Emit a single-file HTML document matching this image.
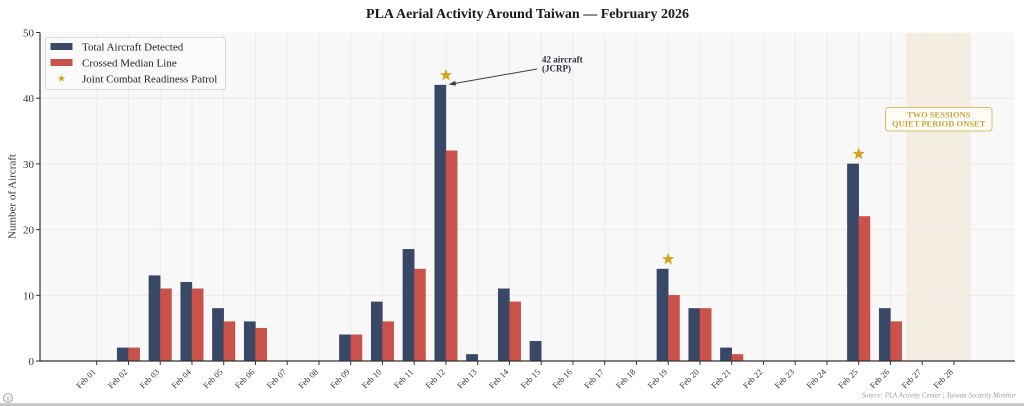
<!DOCTYPE html>
<html><head><meta charset="utf-8"><style>
html,body{margin:0;padding:0;background:#fff;}
svg{display:block;}
text{font-family:"Liberation Serif",serif;}
</style></head><body>
<svg width="1024" height="406" viewBox="0 0 1024 406" xmlns="http://www.w3.org/2000/svg">
<rect width="1024" height="406" fill="#fff"/>
<text x="527.5" y="18" text-anchor="middle" font-size="14" font-weight="bold" fill="#1a1a1a">PLA Aerial Activity Around Taiwan — February 2026</text>
<rect x="40" y="32.5" width="975" height="328.5" fill="#f8f8f8"/>
<rect x="906" y="32.5" width="65" height="328.5" fill="#f4eee2"/>
<g stroke="#e9e9e9" stroke-width="0.8">
<line x1="40" x2="1015" y1="295.3" y2="295.3"/>
<line x1="40" x2="1015" y1="229.6" y2="229.6"/>
<line x1="40" x2="1015" y1="163.9" y2="163.9"/>
<line x1="40" x2="1015" y1="98.2" y2="98.2"/>
<line x1="96.7" x2="96.7" y1="32.5" y2="361"/>
<line x1="128.45" x2="128.45" y1="32.5" y2="361"/>
<line x1="160.2" x2="160.2" y1="32.5" y2="361"/>
<line x1="191.95" x2="191.95" y1="32.5" y2="361"/>
<line x1="223.7" x2="223.7" y1="32.5" y2="361"/>
<line x1="255.45" x2="255.45" y1="32.5" y2="361"/>
<line x1="287.2" x2="287.2" y1="32.5" y2="361"/>
<line x1="318.95" x2="318.95" y1="32.5" y2="361"/>
<line x1="350.7" x2="350.7" y1="32.5" y2="361"/>
<line x1="382.45" x2="382.45" y1="32.5" y2="361"/>
<line x1="414.2" x2="414.2" y1="32.5" y2="361"/>
<line x1="445.95" x2="445.95" y1="32.5" y2="361"/>
<line x1="477.7" x2="477.7" y1="32.5" y2="361"/>
<line x1="509.45" x2="509.45" y1="32.5" y2="361"/>
<line x1="541.2" x2="541.2" y1="32.5" y2="361"/>
<line x1="572.95" x2="572.95" y1="32.5" y2="361"/>
<line x1="604.7" x2="604.7" y1="32.5" y2="361"/>
<line x1="636.45" x2="636.45" y1="32.5" y2="361"/>
<line x1="668.2" x2="668.2" y1="32.5" y2="361"/>
<line x1="699.95" x2="699.95" y1="32.5" y2="361"/>
<line x1="731.7" x2="731.7" y1="32.5" y2="361"/>
<line x1="763.45" x2="763.45" y1="32.5" y2="361"/>
<line x1="795.2" x2="795.2" y1="32.5" y2="361"/>
<line x1="826.95" x2="826.95" y1="32.5" y2="361"/>
<line x1="858.7" x2="858.7" y1="32.5" y2="361"/>
<line x1="890.45" x2="890.45" y1="32.5" y2="361"/>
<line x1="922.2" x2="922.2" y1="32.5" y2="361"/>
<line x1="953.95" x2="953.95" y1="32.5" y2="361"/>
</g>
<g fill="#3a4868" stroke="#2e3a55" stroke-width="0.4">
<rect x="117.15" y="347.86" width="11.3" height="13.14"/>
<rect x="148.9" y="275.59" width="11.3" height="85.41"/>
<rect x="180.65" y="282.16" width="11.3" height="78.84"/>
<rect x="212.4" y="308.44" width="11.3" height="52.56"/>
<rect x="244.15" y="321.58" width="11.3" height="39.42"/>
<rect x="339.4" y="334.72" width="11.3" height="26.28"/>
<rect x="371.15" y="301.87" width="11.3" height="59.13"/>
<rect x="402.9" y="249.31" width="11.3" height="111.69"/>
<rect x="434.65" y="85.06" width="11.3" height="275.94"/>
<rect x="466.4" y="354.43" width="11.3" height="6.57"/>
<rect x="498.15" y="288.73" width="11.3" height="72.27"/>
<rect x="529.9" y="341.29" width="11.3" height="19.71"/>
<rect x="656.9" y="269.02" width="11.3" height="91.98"/>
<rect x="688.65" y="308.44" width="11.3" height="52.56"/>
<rect x="720.4" y="347.86" width="11.3" height="13.14"/>
<rect x="847.4" y="163.9" width="11.3" height="197.1"/>
<rect x="879.15" y="308.44" width="11.3" height="52.56"/>
</g>
<g fill="#c9534a" stroke="#b84a42" stroke-width="0.4">
<rect x="128.45" y="347.86" width="11.3" height="13.14"/>
<rect x="160.2" y="288.73" width="11.3" height="72.27"/>
<rect x="191.95" y="288.73" width="11.3" height="72.27"/>
<rect x="223.7" y="321.58" width="11.3" height="39.42"/>
<rect x="255.45" y="328.15" width="11.3" height="32.85"/>
<rect x="350.7" y="334.72" width="11.3" height="26.28"/>
<rect x="382.45" y="321.58" width="11.3" height="39.42"/>
<rect x="414.2" y="269.02" width="11.3" height="91.98"/>
<rect x="445.95" y="150.76" width="11.3" height="210.24"/>
<rect x="509.45" y="301.87" width="11.3" height="59.13"/>
<rect x="668.2" y="295.3" width="11.3" height="65.7"/>
<rect x="699.95" y="308.44" width="11.3" height="52.56"/>
<rect x="731.7" y="354.43" width="11.3" height="6.57"/>
<rect x="858.7" y="216.46" width="11.3" height="144.54"/>
<rect x="890.45" y="321.58" width="11.3" height="39.42"/>
</g>
<g fill="#d4a21c">
<polygon transform="translate(445.95,75.2)" points="0,-6.5 1.53,-2.1 6.18,-2.01 2.47,0.8 3.82,5.26 0,2.6 -3.82,5.26 -2.47,0.8 -6.18,-2.01 -1.53,-2.1"/>
<polygon transform="translate(668.2,259.2)" points="0,-6.5 1.53,-2.1 6.18,-2.01 2.47,0.8 3.82,5.26 0,2.6 -3.82,5.26 -2.47,0.8 -6.18,-2.01 -1.53,-2.1"/>
<polygon transform="translate(858.7,154)" points="0,-6.5 1.53,-2.1 6.18,-2.01 2.47,0.8 3.82,5.26 0,2.6 -3.82,5.26 -2.47,0.8 -6.18,-2.01 -1.53,-2.1"/>
</g>
<g stroke="#333" stroke-width="1.2">
<line x1="40" y1="32.5" x2="40" y2="361.6"/>
<line x1="39.4" y1="361" x2="1015" y2="361"/>
</g>
<g stroke="#333" stroke-width="1">
<line x1="36" x2="40" y1="361" y2="361"/>
<line x1="36" x2="40" y1="295.3" y2="295.3"/>
<line x1="36" x2="40" y1="229.6" y2="229.6"/>
<line x1="36" x2="40" y1="163.9" y2="163.9"/>
<line x1="36" x2="40" y1="98.2" y2="98.2"/>
<line x1="36" x2="40" y1="32.5" y2="32.5"/>
</g>
<g font-size="11" fill="#333" text-anchor="end">
<text x="34" y="365">0</text>
<text x="34" y="299.3">10</text>
<text x="34" y="233.6">20</text>
<text x="34" y="167.9">30</text>
<text x="34" y="102.2">40</text>
<text x="34" y="36.5">50</text>
</g>
<text transform="translate(15.5,196.5) rotate(-90)" text-anchor="middle" font-size="11" fill="#333">Number of Aircraft</text>
<g stroke="#333" stroke-width="1">
<line x1="96.7" x2="96.7" y1="361" y2="365"/>
<line x1="128.45" x2="128.45" y1="361" y2="365"/>
<line x1="160.2" x2="160.2" y1="361" y2="365"/>
<line x1="191.95" x2="191.95" y1="361" y2="365"/>
<line x1="223.7" x2="223.7" y1="361" y2="365"/>
<line x1="255.45" x2="255.45" y1="361" y2="365"/>
<line x1="287.2" x2="287.2" y1="361" y2="365"/>
<line x1="318.95" x2="318.95" y1="361" y2="365"/>
<line x1="350.7" x2="350.7" y1="361" y2="365"/>
<line x1="382.45" x2="382.45" y1="361" y2="365"/>
<line x1="414.2" x2="414.2" y1="361" y2="365"/>
<line x1="445.95" x2="445.95" y1="361" y2="365"/>
<line x1="477.7" x2="477.7" y1="361" y2="365"/>
<line x1="509.45" x2="509.45" y1="361" y2="365"/>
<line x1="541.2" x2="541.2" y1="361" y2="365"/>
<line x1="572.95" x2="572.95" y1="361" y2="365"/>
<line x1="604.7" x2="604.7" y1="361" y2="365"/>
<line x1="636.45" x2="636.45" y1="361" y2="365"/>
<line x1="668.2" x2="668.2" y1="361" y2="365"/>
<line x1="699.95" x2="699.95" y1="361" y2="365"/>
<line x1="731.7" x2="731.7" y1="361" y2="365"/>
<line x1="763.45" x2="763.45" y1="361" y2="365"/>
<line x1="795.2" x2="795.2" y1="361" y2="365"/>
<line x1="826.95" x2="826.95" y1="361" y2="365"/>
<line x1="858.7" x2="858.7" y1="361" y2="365"/>
<line x1="890.45" x2="890.45" y1="361" y2="365"/>
<line x1="922.2" x2="922.2" y1="361" y2="365"/>
<line x1="953.95" x2="953.95" y1="361" y2="365"/>
</g>
<g font-size="8.5" fill="#333" text-anchor="end">
<text transform="translate(96.2,372.5) rotate(-45)">Feb 01</text>
<text transform="translate(127.95,372.5) rotate(-45)">Feb 02</text>
<text transform="translate(159.7,372.5) rotate(-45)">Feb 03</text>
<text transform="translate(191.45,372.5) rotate(-45)">Feb 04</text>
<text transform="translate(223.2,372.5) rotate(-45)">Feb 05</text>
<text transform="translate(254.95,372.5) rotate(-45)">Feb 06</text>
<text transform="translate(286.7,372.5) rotate(-45)">Feb 07</text>
<text transform="translate(318.45,372.5) rotate(-45)">Feb 08</text>
<text transform="translate(350.2,372.5) rotate(-45)">Feb 09</text>
<text transform="translate(381.95,372.5) rotate(-45)">Feb 10</text>
<text transform="translate(413.7,372.5) rotate(-45)">Feb 11</text>
<text transform="translate(445.45,372.5) rotate(-45)">Feb 12</text>
<text transform="translate(477.2,372.5) rotate(-45)">Feb 13</text>
<text transform="translate(508.95,372.5) rotate(-45)">Feb 14</text>
<text transform="translate(540.7,372.5) rotate(-45)">Feb 15</text>
<text transform="translate(572.45,372.5) rotate(-45)">Feb 16</text>
<text transform="translate(604.2,372.5) rotate(-45)">Feb 17</text>
<text transform="translate(635.95,372.5) rotate(-45)">Feb 18</text>
<text transform="translate(667.7,372.5) rotate(-45)">Feb 19</text>
<text transform="translate(699.45,372.5) rotate(-45)">Feb 20</text>
<text transform="translate(731.2,372.5) rotate(-45)">Feb 21</text>
<text transform="translate(762.95,372.5) rotate(-45)">Feb 22</text>
<text transform="translate(794.7,372.5) rotate(-45)">Feb 23</text>
<text transform="translate(826.45,372.5) rotate(-45)">Feb 24</text>
<text transform="translate(858.2,372.5) rotate(-45)">Feb 25</text>
<text transform="translate(889.95,372.5) rotate(-45)">Feb 26</text>
<text transform="translate(921.7,372.5) rotate(-45)">Feb 27</text>
<text transform="translate(953.45,372.5) rotate(-45)">Feb 28</text>
</g>
<rect x="45.5" y="37.5" width="180" height="52" rx="2.5" fill="#f9f9f9" fill-opacity="0.9" stroke="#d0d0d0" stroke-width="0.8"/>
<rect x="50.5" y="43" width="22" height="7" fill="#3a4868"/>
<rect x="50.5" y="59" width="22" height="7" fill="#c9534a"/>
<polygon transform="translate(61.5,78.5) scale(0.6)" fill="#d4a21c" points="0,-6.5 1.53,-2.1 6.18,-2.01 2.47,0.8 3.82,5.26 0,2.6 -3.82,5.26 -2.47,0.8 -6.18,-2.01 -1.53,-2.1"/>
<g font-size="11" fill="#222">
<text x="82" y="50.5">Total Aircraft Detected</text>
<text x="82" y="66.5">Crossed Median Line</text>
<text x="82" y="82.5">Joint Combat Readiness Patrol</text>
</g>
<line x1="537" y1="69" x2="453" y2="83.7" stroke="#3a3f4a" stroke-width="1"/>
<polygon points="448.5,84.5 455.2,80.8 456,85.6" fill="#3a3f4a"/>
<g font-size="9" font-weight="bold" fill="#2a2f3a">
<text x="542" y="62.5">42 aircraft</text>
<text x="542" y="71.5">(JCRP)</text>
</g>
<rect x="885.5" y="107.5" width="106.5" height="23.5" rx="3" fill="#fffdf6" stroke="#d8bd70" stroke-width="1"/>
<g font-size="8.5" font-weight="bold" fill="#c9a542" text-anchor="middle">
<text x="938.7" y="117.5">TWO SESSIONS</text>
<text x="938.7" y="126.5">QUIET PERIOD ONSET</text>
</g>
<text x="1016" y="397.5" text-anchor="end" font-size="7" font-style="italic" fill="#9a9a9a">Source: PLA Activity Center | Taiwan Security Monitor</text>
<rect x="0" y="403.3" width="1024" height="2.7" fill="#c4c4c4"/>
<circle cx="8" cy="398" r="4.5" fill="#efefef" stroke="#9a9a9a" stroke-width="0.8"/>
<text x="8" y="400.5" text-anchor="middle" font-size="6" fill="#777">i</text>
</svg>
</body></html>
